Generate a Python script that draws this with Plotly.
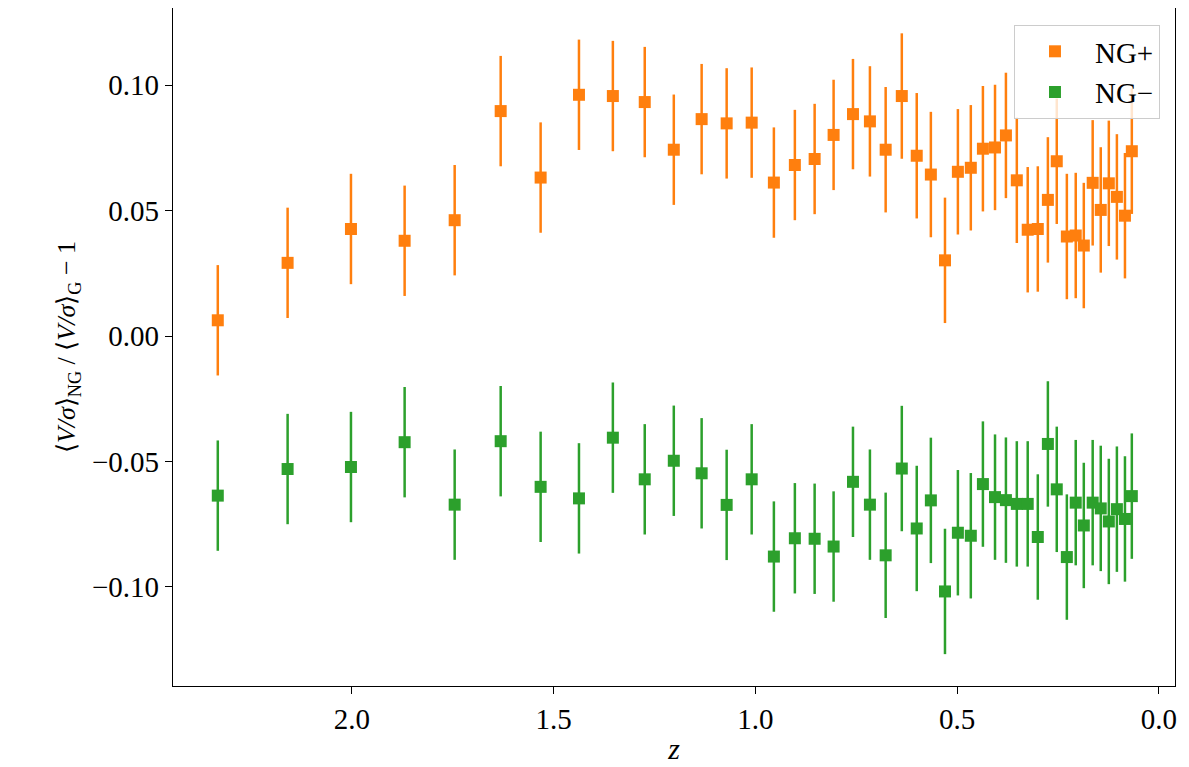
import plotly.graph_objects as go

# redshift bins (shared by both series)
z = [2.332, 2.159, 2.002, 1.869, 1.745, 1.631, 1.532, 1.437, 1.353, 1.274,
     1.202, 1.133, 1.071, 1.009, 0.954, 0.902, 0.853, 0.806, 0.758, 0.716,
     0.677, 0.637, 0.600, 0.565, 0.530, 0.498, 0.466, 0.436, 0.406, 0.379,
     0.352, 0.325, 0.300, 0.275, 0.253, 0.228, 0.206, 0.186, 0.164, 0.144,
     0.124, 0.104, 0.084, 0.067]

ng_plus = [0.0063, 0.0292, 0.0427, 0.0380, 0.0462, 0.0897, 0.0632, 0.0962, 0.0957, 0.0933,
           0.0743, 0.0865, 0.0848, 0.0851, 0.0612, 0.0682, 0.0706, 0.0802, 0.0885, 0.0856,
           0.0743, 0.0957, 0.0719, 0.0644, 0.0302, 0.0655, 0.0671, 0.0747, 0.0752, 0.0800,
           0.0621, 0.0424, 0.0427, 0.0543, 0.0697, 0.0397, 0.0401, 0.0361, 0.0611, 0.0503,
           0.0609, 0.0555, 0.0480, 0.0737]

ng_minus = [-0.0636, -0.0530, -0.0522, -0.0423, -0.0672, -0.0419, -0.0601, -0.0647, -0.0405, -0.0571,
            -0.0497, -0.0547, -0.0673, -0.0571, -0.0879, -0.0806, -0.0808, -0.0839, -0.0581, -0.0672,
            -0.0874, -0.0528, -0.0767, -0.0655, -0.1018, -0.0784, -0.0796, -0.0590, -0.0642, -0.0654,
            -0.0669, -0.0669, -0.0801, -0.0430, -0.0611, -0.0881, -0.0664, -0.0755, -0.0664, -0.0687,
            -0.0739, -0.0690, -0.0729, -0.0638]

err = [0.022] * 20 + [0.025] * 24

font = "Liberation Serif"

fig = go.Figure()
for name, vals, col in [("NG+", ng_plus, "#ff7f0e"), ("NG−", ng_minus, "#2ca02c")]:
    fig.add_trace(go.Scatter(
        x=z, y=vals, mode="markers", name=name,
        marker=dict(symbol="square", size=12, color=col),
        error_y=dict(type="data", array=err, color=col, thickness=2.5, width=0),
    ))

axis_common = dict(
    showgrid=False, zeroline=False, showline=True, linecolor="black", linewidth=1.2,
    mirror=True, ticks="outside", ticklen=7, tickwidth=1.2, tickcolor="black",
    tickfont=dict(family=font, size=29, color="black"),
)
fig.update_xaxes(range=[2.443, -0.04], tickvals=[2.0, 1.5, 1.0, 0.5, 0.0], tickformat=".1f",
                 title=dict(text="<i>z</i>", font=dict(family=font, size=30, color="black"), standoff=4),
                 **axis_common)
fig.update_yaxes(range=[-0.1395, 0.1308], tickvals=[-0.10, -0.05, 0.0, 0.05, 0.10], tickformat=".2f",
                 title=dict(text="⟨<i>V/σ</i>⟩<sub>NG</sub> / ⟨<i>V/σ</i>⟩<sub>G</sub> − 1",
                            font=dict(family=font, size=26, color="black"), standoff=8),
                 **axis_common)

# the page body adds an 8px margin, so the figure is a little smaller than the window
fig.update_layout(
    width=1181, height=759,
    margin=dict(l=165, r=14, t=0, b=81),
    plot_bgcolor="white", paper_bgcolor="white",
    font=dict(family=font, color="black"),
    legend=dict(x=0.985, y=0.975, xanchor="right", yanchor="top",
                bgcolor="rgba(255,255,255,0.8)", bordercolor="#cccccc", borderwidth=1,
                font=dict(family=font, size=29), itemwidth=70, tracegroupgap=10),
)

fig.write_html("out.html")
